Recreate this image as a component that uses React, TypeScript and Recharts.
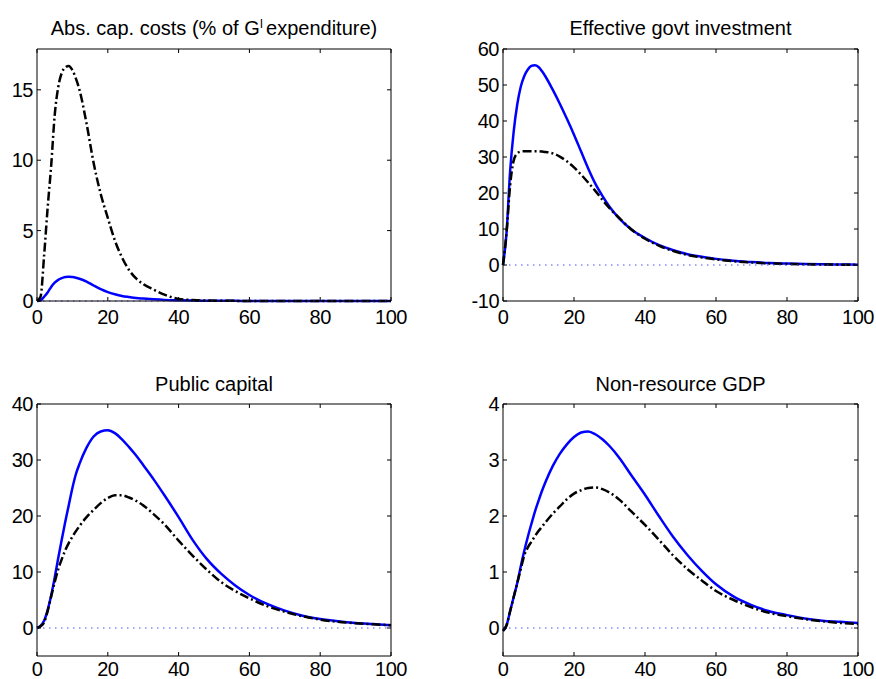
import { LineChart, Line, XAxis, YAxis, ReferenceLine } from "recharts";

const periods = [0, 1, 2, 3, 4, 5, 6, 7, 8, 9, 10, 11, 12, 14, 16, 18, 20, 22, 24, 26, 28, 30, 33, 36, 40, 44, 48, 52, 56, 60, 65, 70, 75, 80, 85, 90, 95, 100];
const xTicks = [0, 20, 40, 60, 80, 100];

// abs. cap. costs
const absCostBase = [0, 0.05, 0.3, 0.6, 1.0, 1.3, 1.5, 1.62, 1.7, 1.72, 1.7, 1.65, 1.58, 1.38, 1.1, 0.84, 0.63, 0.48, 0.36, 0.28, 0.21, 0.17, 0.12, 0.08, 0.05, 0.03, 0.02, 0.01, 0.01, 0, 0, 0, 0, 0, 0, 0, 0, 0];
const absCostAlt = [0, 0.3, 3.2, 6.6, 9.6, 13.2, 15.2, 16.2, 16.6, 16.7, 16.4, 15.8, 15.0, 12.6, 9.8, 7.6, 5.9, 4.3, 3.1, 2.2, 1.6, 1.2, 0.8, 0.45, 0.15, 0.07, 0.03, 0.02, 0.01, 0, 0, 0, 0, 0, 0, 0, 0, 0];

// effective govt investment
const investBase = [0, 9, 26, 37, 44.5, 49.5, 52.5, 54.3, 55.3, 55.5, 55.0, 53.8, 52.3, 48.7, 44.8, 40.6, 36.2, 31.5, 26.8, 22.6, 19.2, 16.2, 12.7, 10.0, 7.5, 5.5, 4.1, 3.0, 2.3, 1.7, 1.2, 0.8, 0.55, 0.4, 0.3, 0.2, 0.15, 0.1];
const investAlt = [0, 9, 22, 29, 31, 31.5, 31.6, 31.6, 31.6, 31.6, 31.6, 31.5, 31.4, 31.0, 30.1, 28.8, 27.1, 25.1, 22.9, 20.6, 18.1, 15.8, 12.8, 10.0, 7.3, 5.3, 3.9, 2.8, 2.1, 1.55, 1.05, 0.7, 0.45, 0.3, 0.2, 0.14, 0.1, 0.07];

// public capital
const capitalBase = [0, 0.4, 1.3, 3.2, 5.8, 9.0, 12.5, 15.8, 19.0, 22.0, 25.0, 27.5, 29.3, 32.2, 34.2, 35.1, 35.3, 34.8, 33.7, 32.3, 30.8, 29.1, 26.5, 23.7, 19.8, 15.7, 12.3, 9.7, 7.6, 5.9, 4.3, 3.1, 2.2, 1.6, 1.2, 0.9, 0.7, 0.5];
const capitalAlt = [0, 0.3, 1.0, 3.0, 5.6, 8.2, 10.5, 12.3, 13.9, 15.2, 16.3, 17.3, 18.2, 19.8, 21.1, 22.3, 23.2, 23.7, 23.7, 23.3, 22.7, 21.9, 20.3, 18.5, 15.6, 12.9, 10.4, 8.2, 6.6, 5.3, 3.9, 2.9, 2.1, 1.5, 1.1, 0.85, 0.65, 0.5];

// non-resource GDP
const gdpBase = [-0.05, 0.05, 0.3, 0.55, 0.8, 1.1, 1.38, 1.63, 1.86, 2.08, 2.27, 2.45, 2.61, 2.89, 3.11, 3.28, 3.41, 3.49, 3.51, 3.46, 3.37, 3.25, 3.02, 2.74, 2.38, 1.99, 1.62, 1.3, 1.02, 0.78, 0.56, 0.41, 0.3, 0.23, 0.17, 0.13, 0.11, 0.09];
const gdpAlt = [-0.05, 0.05, 0.3, 0.55, 0.8, 1.05, 1.3, 1.44, 1.54, 1.64, 1.73, 1.81, 1.89, 2.04, 2.17, 2.3, 2.4, 2.46, 2.5, 2.51, 2.48, 2.42, 2.28, 2.09, 1.84, 1.57, 1.29, 1.05, 0.85, 0.66, 0.5, 0.37, 0.27, 0.21, 0.16, 0.12, 0.09, 0.07];

const FONT = "'Liberation Sans', Arial, Helvetica, sans-serif";
const tickStyle = { fill: "#000", fontSize: 20, fontFamily: FONT, letterSpacing: -0.5 };
const noLabel = () => <g />;

function rows(base: number[], alt: number[]) {
  return periods.map((t, i) => ({ t, base: base[i], alt: alt[i] }));
}

type Box = { top: number; right: number; bottom: number; left: number };

type PanelProps = {
  left: number;
  top: number;
  width: number;
  height: number;
  plot: Box; // plot area insets inside the panel
  title: React.ReactNode;
  titleTop: number;
  xLabelGap: number;
  base: number[];
  alt: number[];
  yDomain: [number, number];
  yTicks: number[];
};

function Panel(p: PanelProps) {
  const data = rows(p.base, p.alt);
  // axes take 1px each, so pull the margins in by one
  const margin = {
    top: p.plot.top - 1,
    right: p.plot.right - 1,
    bottom: p.plot.bottom - 1,
    left: p.plot.left - 1,
  };
  const plotWidth = p.width - p.plot.left - p.plot.right;
  return (
    <div style={{ position: "absolute", left: p.left, top: p.top, width: p.width, height: p.height }}>
      <div
        style={{
          position: "absolute",
          left: p.plot.left,
          width: plotWidth,
          top: p.titleTop,
          textAlign: "center",
          fontFamily: FONT,
          fontSize: 20,
          lineHeight: "20px",
          whiteSpace: "nowrap",
          color: "#000",
        }}
      >
        {p.title}
      </div>
      <LineChart width={p.width} height={p.height} data={data} margin={margin}>
        <XAxis
          dataKey="t"
          type="number"
          domain={[0, 100]}
          ticks={xTicks}
          height={1}
          tickSize={-4}
          tickMargin={p.xLabelGap}
          tick={tickStyle}
          tickLine={{ stroke: "#000" }}
          axisLine={{ stroke: "#000" }}
          interval={0}
        />
        <XAxis
          xAxisId="top"
          dataKey="t"
          orientation="top"
          type="number"
          domain={[0, 100]}
          ticks={xTicks}
          height={1}
          tickSize={-4}
          tick={noLabel}
          tickLine={{ stroke: "#000" }}
          axisLine={{ stroke: "#000" }}
          interval={0}
        />
        <YAxis
          type="number"
          domain={p.yDomain}
          ticks={p.yTicks}
          width={1}
          tickSize={-4}
          tickMargin={8}
          tick={tickStyle}
          tickLine={{ stroke: "#000" }}
          axisLine={{ stroke: "#000" }}
          interval={0}
        />
        <YAxis
          yAxisId="r"
          orientation="right"
          type="number"
          domain={p.yDomain}
          ticks={p.yTicks}
          width={1}
          tickSize={-4}
          tick={noLabel}
          tickLine={{ stroke: "#000" }}
          axisLine={{ stroke: "#000" }}
          interval={0}
        />
        {/* same domain on both y axes, so binding the blue line to the right one is harmless */}
        <Line
          type="monotone"
          dataKey="base"
          yAxisId="r"
          stroke="#0000ff"
          strokeWidth={2.5}
          dot={false}
          isAnimationActive={false}
        />
        <Line
          type="monotone"
          dataKey="alt"
          stroke="#000"
          strokeWidth={2.5}
          strokeDasharray="9 3 2 3"
          dot={false}
          isAnimationActive={false}
        />
        <ReferenceLine y={0} stroke="#4d4dff" strokeWidth={1} strokeDasharray="1.5 4.5" />
      </LineChart>
    </div>
  );
}

export default function App() {
  const topLeft = { top: 49, right: 49, bottom: 39, left: 37 };
  const topRight = { top: 49, right: 18, bottom: 39, left: 63 };
  const botLeft = { top: 64, right: 49, bottom: 23, left: 37 };
  const botRight = { top: 64, right: 18, bottom: 23, left: 63 };
  return (
    <div style={{ position: "absolute", left: 0, top: 0, width: 876, height: 679, background: "#fff" }}>
      <Panel
        left={0}
        top={0}
        width={440}
        height={340}
        plot={topLeft}
        titleTop={18}
        xLabelGap={13}
        title={
          <span>
            Abs. cap. costs (% of G
            <span style={{ fontSize: 12, position: "relative", top: -7, marginLeft: 0, marginRight: 3 }}>I</span>
            expenditure)
          </span>
        }
        base={absCostBase}
        alt={absCostAlt}
        yDomain={[0, 17.9]}
        yTicks={[0, 5, 10, 15]}
      />
      <Panel
        left={440}
        top={0}
        width={436}
        height={340}
        plot={topRight}
        titleTop={18}
        xLabelGap={13}
        title="Effective govt investment"
        base={investBase}
        alt={investAlt}
        yDomain={[-10, 60]}
        yTicks={[-10, 0, 10, 20, 30, 40, 50, 60]}
      />
      <Panel
        left={0}
        top={340}
        width={440}
        height={339}
        plot={botLeft}
        titleTop={34}
        xLabelGap={10}
        title="Public capital"
        base={capitalBase}
        alt={capitalAlt}
        yDomain={[-5, 40]}
        yTicks={[0, 10, 20, 30, 40]}
      />
      <Panel
        left={440}
        top={340}
        width={436}
        height={339}
        plot={botRight}
        titleTop={34}
        xLabelGap={10}
        title="Non-resource GDP"
        base={gdpBase}
        alt={gdpAlt}
        yDomain={[-0.5, 4]}
        yTicks={[0, 1, 2, 3, 4]}
      />
    </div>
  );
}
